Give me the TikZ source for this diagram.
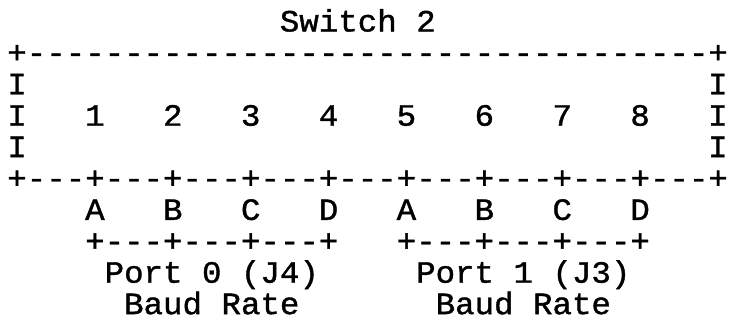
\documentclass[tikz,border=0pt]{standalone}
\usepackage{fontspec}
\newfontfamily\asciifont[FakeStretch=1.047,FakeBold=1.2]{Liberation Mono}
\begin{document}
\begin{tikzpicture}[x=1bp,y=-1bp,
  art/.style={anchor=base west,inner sep=0pt,outer sep=0pt,
    font=\asciifont\fontsize{31bp}{31bp}\selectfont}]
\useasboundingbox (0,0) rectangle (729,320);
\def\lx{7.3}\def\cw{19.47}\def\rh{31.4}\def\bl{31.5}
% row 0: title
\node[art] (title) at (\lx+14*\cw,\bl) {Switch 2};
% row 1: top border
\node[art] (top) at (\lx,\bl+\rh) {+-----------------------------------+};
% rows 2-4: sides
\foreach \r in {2,3,4}{
  \node[art] (l\r) at (\lx,\bl+\r*\rh) {I};
  \node[art] (r\r) at (\lx+36*\cw,\bl+\r*\rh) {I};
}
% switch numbers
\foreach \n in {1,...,8}{
  \node[art] (n\n) at (\lx+4*\n*\cw,\bl+3*\rh) {\n};
}
% row 5: bottom border
\node[art] (bottom) at (\lx,\bl+5*\rh) {+---+---+---+---+---+---+---+---+---+};
% row 6: letters
\foreach \l [count=\i] in {A,B,C,D}{
  \node[art] (a\i) at (\lx+4*\i*\cw,\bl+6*\rh) {\l};
  \node[art] (b\i) at (\lx+16*\cw+4*\i*\cw,\bl+6*\rh) {\l};
}
% row 7: brackets
\node[art] (br0) at (\lx+4*\cw,\bl+7*\rh) {+---+---+---+};
\node[art] (br1) at (\lx+20*\cw,\bl+7*\rh) {+---+---+---+};
% row 8-9: port labels
\node[art] (p0) at (\lx+5*\cw,\bl+8*\rh) {Port\ 0\ (J4)};
\node[art] (p1) at (\lx+21*\cw,\bl+8*\rh) {Port\ 1\ (J3)};
\node[art] (bd0) at (\lx+6*\cw,\bl+9*\rh) {Baud\ Rate};
\node[art] (bd1) at (\lx+22*\cw,\bl+9*\rh) {Baud\ Rate};
\end{tikzpicture}
\end{document}
